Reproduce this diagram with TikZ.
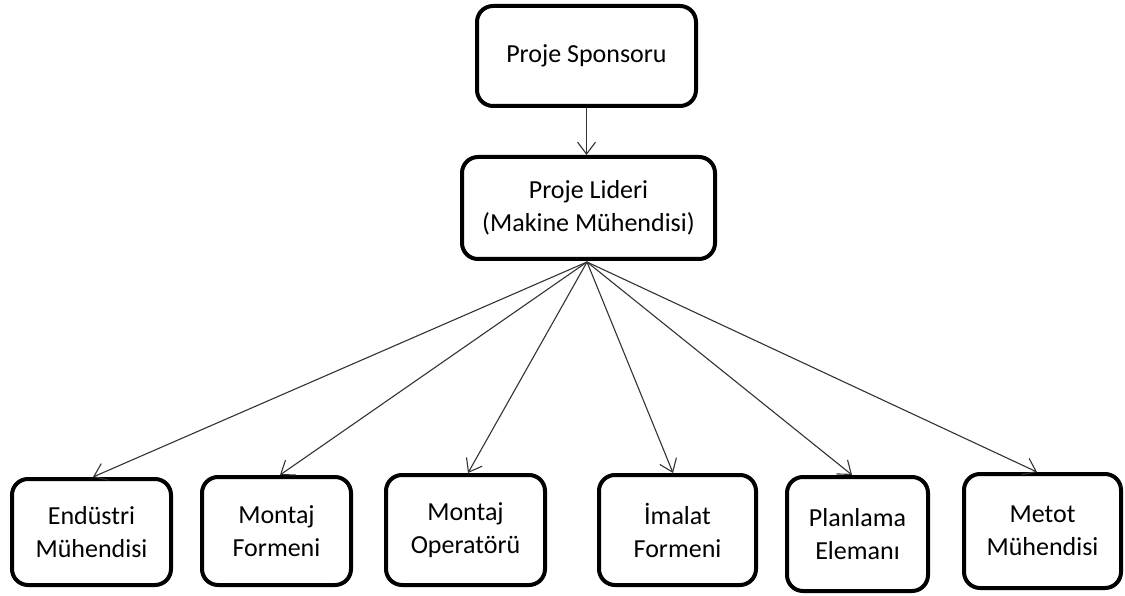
\documentclass[tikz,border=0pt]{standalone}
\usepackage{fontspec}
\setmainfont{Carlito}
\usetikzlibrary{arrows.meta}
\begin{document}
\begin{tikzpicture}[x=1pt,y=-1pt,
  box/.style={draw=black, line width=4pt, rounded corners=16pt, fill=white,
    align=center, inner sep=0pt, font=\fontsize{26}{33}\selectfont},
  link/.style={draw=black!80, line width=1.1pt,
    -{Straight Barb[length=12pt,width=18pt,line width=1.1pt]}}]
\useasboundingbox (0,0) rectangle (1125,596);
\fill[white] (0,0) rectangle (1125,596);

% top level
\node[box, minimum width=219pt, minimum height=100pt] (sponsor) at (586.5,56) {Proje Sponsoru};
\node[box, minimum width=253pt, minimum height=102pt] (leader) at (588.5,208) {Proje Lideri\\(Makine Mühendisi)};

% team members
\node[box, minimum width=159pt, minimum height=106pt] (m1) at (91.5,532) {Endüstri\\Mühendisi};
\node[box, minimum width=149pt, minimum height=108pt] (m2) at (276.5,531) {Montaj\\Formeni};
\node[box, minimum width=159pt, minimum height=110pt] (m3) at (465.5,530) {Montaj\\Operatörü};
\node[box, minimum width=157pt, minimum height=110pt] (m4) at (677.5,530) {İmalat\\Formeni};
\node[box, minimum width=141pt, minimum height=114pt] (m5) at (857.5,534) {Planlama\\Elemanı};
\node[box, minimum width=157pt, minimum height=114pt] (m6) at (1042.5,531) {Metot\\Mühendisi};

% connectors
\coordinate (hub) at (587,262);
\draw[link] (sponsor.south) -- (leader.north -| sponsor.south);
\draw[link] (hub) -- ([xshift=1.5pt]m1.north);
\draw[link] (hub) -- ([xshift=3.5pt]m2.north);
\draw[link] (hub) -- ([xshift=2.5pt]m3.north);
\draw[link] (hub) -- ([xshift=-4.5pt]m4.north);
\draw[link] (hub) -- ([xshift=-5.5pt]m5.north);
\draw[link] (hub) -- ([xshift=-5.5pt]m6.north);
\end{tikzpicture}
\end{document}
